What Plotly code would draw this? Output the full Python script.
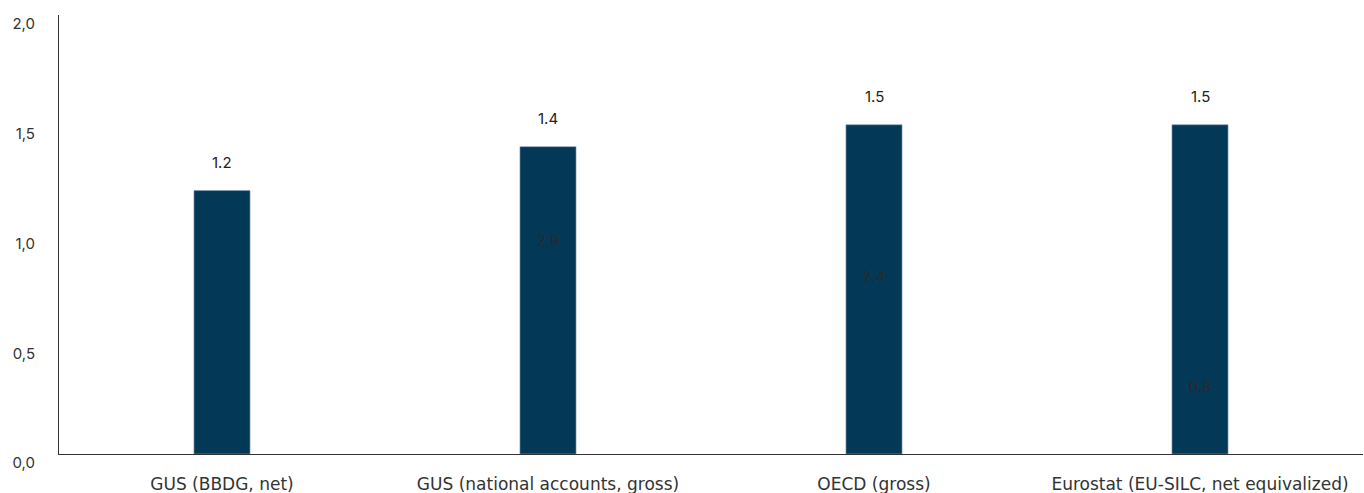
import plotly.graph_objects as go

categories = ["GUS (BBDG, net)", "GUS (national accounts, gross)", "OECD (gross)", "Eurostat (EU-SILC, net equivalized)"]
bar_values = [1.2, 1.4, 1.5, 1.5]
inner_categories = ["GUS (national accounts, gross)", "OECD (gross)", "Eurostat (EU-SILC, net equivalized)"]
inner_values = [2.9, 2.4, 0.8]
y_ticks = [0.0, 0.5, 1.0, 1.5, 2.0]
y_tick_labels = ["0,0", "0,5", "1,0", "1,5", "2,0"]

BAR_COLOR = "#033857"
num_font = "Inter, Roboto, sans-serif"
cat_font = "DejaVu Sans, sans-serif"

fig = go.Figure()
fig.add_trace(go.Bar(
    x=categories, y=bar_values,
    marker=dict(color=BAR_COLOR, line=dict(color="#7f9bb3", width=0.6)),
    hoverinfo="skip", showlegend=False,
))
fig.add_trace(go.Scatter(
    x=inner_categories, y=inner_values, yaxis="y2",
    mode="text", text=[f"{v:.1f}" for v in inner_values],
    textposition=["middle center", "middle center", "top center"],
    textfont=dict(family=num_font, size=15, color="#2a2a2a"),
    hoverinfo="skip", showlegend=False,
))

for c, v in zip(categories, bar_values):
    fig.add_annotation(x=c, y=v, text=f"{v:.1f}", showarrow=False,
                       yshift=28, font=dict(family=num_font, size=15, color="#222222"))

fig.update_layout(
    width=1364, height=493,
    margin=dict(l=59, r=1, t=15, b=39, autoexpand=False),
    paper_bgcolor="white", plot_bgcolor="white",
    bargap=0.828,
    xaxis=dict(showgrid=False, showline=True, linecolor="#333333", linewidth=1,
               ticks="", ticklabelstandoff=15, zeroline=False, automargin=False,
               tickfont=dict(family=cat_font, size=17, color="#333333")),
    yaxis=dict(range=[0, 2.0], showgrid=False, showline=True, linecolor="#333333", linewidth=1,
               zeroline=False, tickvals=y_ticks, ticktext=y_tick_labels, ticks="",
               ticklabelstandoff=20, ticklabelshift=9, ticklabeloverflow="allow",
               automargin=False,
               tickfont=dict(family=num_font, size=15, color="#333333")),
    yaxis2=dict(range=[0, 6], overlaying="y", visible=False),
)

fig.write_html("out.html")
